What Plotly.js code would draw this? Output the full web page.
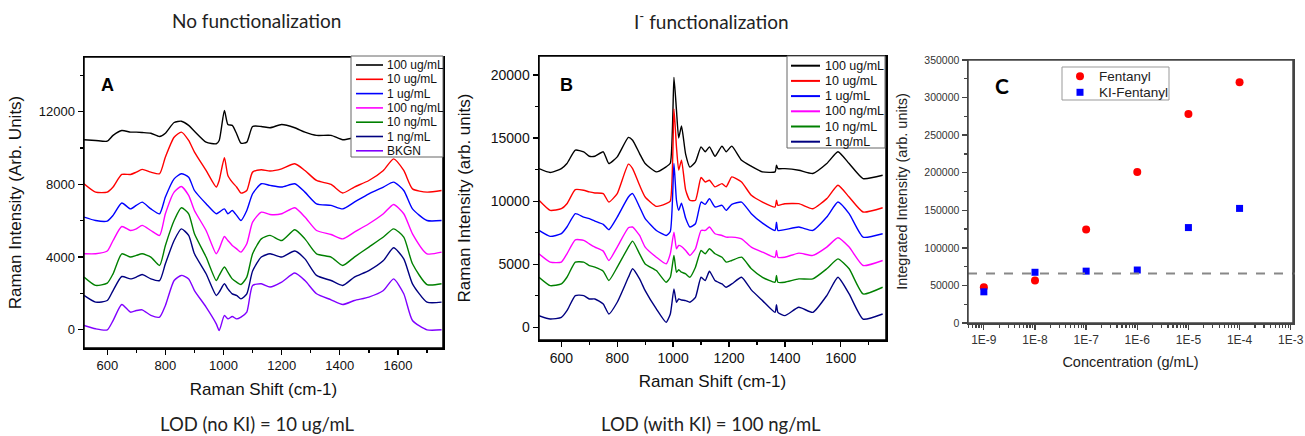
<!DOCTYPE html>
<html>
<head>
<meta charset="utf-8">
<script src="https://cdn.plot.ly/plotly-3.0.1.min.js"></script>
<style>html,body{margin:0;padding:0;background:#fff;}#chart{width:1305px;height:436px;}</style>
</head>
<body>
<div id="chart"></div>
<script>
// ---------- Panel A: no functionalization (Raman shift, cm-1) ----------
const ramanShiftA = [520,560,600,620,650,680,700,720,750,780,800,830,855,880,900,940,975,985,1003,1015,1030,1045,1060,1080,1100,1130,1160,1200,1245,1280,1320,1370,1410,1450,1500,1550,1585,1620,1650,1700,1750];
const noKI_100ugmL = [10450,10410,10370,10690,10960,10870,10870,10850,10810,10630,10810,11400,11470,11240,10920,10320,10230,10410,12060,11290,11240,10780,10260,10320,11180,11180,11110,11290,11110,10870,10690,10690,10450,10560,10630,10780,11050,10780,10500,10450,10450];
const noKI_10ugmL = [8030,7570,7570,7850,8540,8540,8670,8820,8670,8580,9500,10590,10870,10410,9770,8760,7850,8210,9460,8490,8120,7850,7520,7660,8670,8800,8730,8850,9130,8760,8210,7990,7520,7850,8210,8760,9400,8760,7750,7570,7660];
const noKI_1ugmL = [6200,6010,5980,6290,6970,6650,6840,7020,6650,6380,7300,8300,8580,8390,7660,6930,6380,6470,6650,6380,6560,6290,6010,6560,7480,8030,7940,7850,8030,7570,6930,6840,6650,7020,7480,7850,8120,7660,6650,6010,6010];
const noKI_100ngmL = [4180,4180,4330,4910,5680,5460,5550,5740,5460,5190,6380,7570,7880,7390,6560,5460,4180,4450,5130,4910,4640,4450,4270,4730,5920,6470,6340,6380,6710,6200,5460,5240,5000,5370,5830,6380,6890,6380,5280,4180,4270];
const noKI_10ngmL = [2900,2440,2570,3080,4180,4000,4090,4180,4000,3540,4640,6010,6710,6380,5280,4000,2710,2990,3450,3170,2800,2620,2490,2900,4180,5000,5190,4910,5500,5000,4180,4000,3540,4000,4550,5100,5550,5100,3630,2490,2530];
const noKI_1ngmL = [1890,1520,1610,2160,2930,2800,2900,3040,2800,2710,3630,4910,5550,5190,4180,3080,1890,2070,2530,2250,1980,1890,1700,1980,3230,4000,4180,4000,4330,3900,2990,2710,2440,2900,3260,3810,4510,3900,2530,1520,1520];
const noKI_BKGN = [240,55,0,510,1390,970,1060,1100,790,700,1340,2710,2990,2800,2160,1250,330,-40,790,600,730,600,700,970,2440,2530,2350,2620,3120,2710,1980,1650,1390,1610,1800,2160,2800,1980,510,0,0];
const seriesNamesA = ['100 ug/mL','10 ug/mL','1 ug/mL','100 ng/mL','10 ng/mL','1 ng/mL','BKGN'];

// ---------- Panel B: I- functionalization ----------
const ramanShiftB = [520,560,600,620,650,680,700,720,750,770,800,840,855,880,900,940,975,990,1003,1012,1020,1030,1045,1060,1080,1100,1115,1130,1150,1175,1190,1210,1245,1280,1320,1365,1370,1375,1400,1450,1500,1550,1590,1630,1680,1750];
const withKI_100ugmL = [12580,12270,12580,12980,14040,13910,13560,13560,13910,12980,13510,15050,14830,13770,12980,12320,12720,13000,19810,17220,15000,15950,13700,12700,13110,14300,13910,14300,13560,14360,13910,14360,13240,12770,12320,12320,12850,12580,12580,12450,12190,12980,13910,12980,11790,12050];
const withKI_10ugmL = [10070,9270,9400,9800,10910,10860,10730,10650,10600,9930,10600,12930,12580,11260,10330,9590,9800,10000,17300,14300,12460,13250,10870,10070,10070,11870,11520,11660,11130,11390,11130,11920,11520,10460,9930,9540,10070,9670,9800,9800,9400,10200,11260,10330,9140,9480];
const withKI_1ugmL = [7680,7210,7420,7950,9010,8740,8610,8420,8160,7740,8740,10330,10600,9540,8610,7680,7280,7600,12980,10070,9270,9830,8640,7950,8210,9930,9750,10200,9540,9670,9270,9750,9930,9010,8260,7680,8340,7680,7740,7950,7680,8740,9930,9010,7150,7420];
const withKI_100ngmL = [5830,5170,5170,5830,6940,6890,6620,6360,6040,5300,6360,7890,7950,7280,6360,5560,5030,5830,7550,6230,6490,6410,6090,5700,6230,7680,7680,7950,7420,7280,7150,7150,7020,6360,5960,5560,6090,5560,5560,5880,5700,6360,7100,6360,4900,5300];
const withKI_10ngmL = [3970,3310,3440,3970,5170,5170,4900,4770,4450,3710,4770,6360,6830,5830,5030,4500,3580,3970,5700,4370,4560,4370,4240,3970,4770,6090,5830,6230,5830,5560,5170,5300,5560,4640,3970,3580,4110,3580,3580,3840,3840,4640,5430,4640,2650,3180];
const withKI_1ngmL = [930,660,790,1320,2520,2520,2250,2250,1850,1060,1990,3970,4640,3840,2910,1460,400,1060,3050,1990,2250,2170,2120,1990,2380,3970,3710,4450,3710,3440,3180,3440,3970,2970,2120,1190,1800,1190,930,1590,1190,2520,3970,2650,660,1060];
const seriesNamesB = ['100 ug/mL','10 ug/mL','1 ug/mL','100 ng/mL','10 ng/mL','1 ng/mL'];

// ---------- Panel C: integrated intensity vs concentration ----------
const concentration = [1e-9,1e-8,1e-7,1e-6,1e-5,1e-4];
const fentanylIntensity = [47500,56500,124500,201000,278000,320500];
const kiFentanylIntensity = [41500,67500,69000,70500,127000,152500];
const lodThreshold = 66000;
const concTickVals = [1e-9,1e-8,1e-7,1e-6,1e-5,1e-4,1e-3];
const concTickText = ['1E-9','1E-8','1E-7','1E-6','1E-5','1E-4','1E-3'];
const seriesNamesC = ['Fentanyl','KI-Fentanyl'];

// ---------- axis ranges ----------
const rangeXA = [520,1755], rangeYA = [-1000,15000];
const rangeXB = [520,1762], rangeYB = [-1000,21500];
const rangeXC = [-9.31,-2.955], rangeYC = [0,350000];

// ---------- styles ----------
const W = 1305, H = 436;
const px = x => x / W, py = y => 1 - y / H;
const AXF = 'Liberation Sans, Arial, sans-serif';
const TXF = 'Lato, Open Sans, sans-serif';
const lineColors = ['#000000','#ff0000','#0000ff','#ff00ff','#008000','#000080','#8000ff'];

const traces = [];
const dataA = [noKI_100ugmL,noKI_10ugmL,noKI_1ugmL,noKI_100ngmL,noKI_10ngmL,noKI_1ngmL,noKI_BKGN];
dataA.forEach((ys,i)=>traces.push({type:'scatter',mode:'lines',x:ramanShiftA,y:ys,name:seriesNamesA[i],xaxis:'x',yaxis:'y',
  line:{color:lineColors[i],width:1.4,shape:'spline',smoothing:0.6},showlegend:false}));
const dataB = [withKI_100ugmL,withKI_10ugmL,withKI_1ugmL,withKI_100ngmL,withKI_10ngmL,withKI_1ngmL];
dataB.forEach((ys,i)=>traces.push({type:'scatter',mode:'lines',x:ramanShiftB,y:ys,name:seriesNamesB[i],xaxis:'x2',yaxis:'y2',
  line:{color:lineColors[i],width:1.4,shape:'spline',smoothing:0.5},showlegend:false}));
traces.push({type:'scatter',mode:'markers',x:concentration,y:fentanylIntensity,name:seriesNamesC[0],xaxis:'x3',yaxis:'y3',
  marker:{symbol:'circle',size:8,color:'#ff0000'},showlegend:false});
traces.push({type:'scatter',mode:'markers',x:concentration,y:kiFentanylIntensity,name:seriesNamesC[1],xaxis:'x3',yaxis:'y3',
  marker:{symbol:'square',size:7,color:'#0000ff'},showlegend:false});

const axBase = {showline:true,mirror:true,linecolor:'#000',linewidth:1.5,ticks:'outside',ticklen:5,tickwidth:1.3,tickcolor:'#000',
  showgrid:false,zeroline:false,automargin:false,tickfont:{family:AXF,size:13,color:'#111'}};

// minor log ticks for panel C
const minorLog = [];
for (let d=-10; d<=-3; d++) for (let k=2;k<=9;k++) minorLog.push(k*Math.pow(10,d));

const shapes = [];
const annotations = [];
// lod threshold line in C
shapes.push({type:'line',xref:'x3 domain',x0:0,x1:1.005,yref:'y3',y0:lodThreshold,y1:lodThreshold,line:{color:'#888',width:2,dash:'dash'}});
// plot frames as thin filled bars on each panel edge (paper coordinates)
[[84,443,57,348,'#000'],[539,886,56,340,'#000'],[968,1293,60,323,'#444']].forEach(([l,r,t,b,c])=>{
  const h = 0.75;
  [[l-h,r+h,t-h,t+h],[l-h,r+h,b-h,b+h],[l-h,l+h,t-h,b+h],[r-h,r+h,t-h,b+h]].forEach(([x0,x1,y0,y1])=>{
    shapes.push({type:'rect',xref:'paper',yref:'paper',x0:px(x0),x1:px(x1),y0:py(y1),y1:py(y0),fillcolor:c,line:{width:0},layer:'above'});
  });
});

// legend A
shapes.push({type:'rect',xref:'paper',yref:'paper',x0:px(351),x1:px(443),y0:py(157),y1:py(56),fillcolor:'#fff',line:{color:'#666',width:1}});
seriesNamesA.forEach((n,i)=>{
  const yc = 65 + i*14.3;
  shapes.push({type:'line',xref:'paper',yref:'paper',x0:px(356),x1:px(383),y0:py(yc),y1:py(yc),line:{color:lineColors[i],width:1.6}});
  annotations.push({xref:'paper',yref:'paper',x:px(385),y:py(yc),text:n,showarrow:false,xanchor:'left',yanchor:'middle',font:{family:AXF,size:12,color:'#111'}});
});
// legend B
shapes.push({type:'rect',xref:'paper',yref:'paper',x0:px(787),x1:px(885),y0:py(148),y1:py(56),fillcolor:'#fff',line:{color:'#666',width:1}});
seriesNamesB.forEach((n,i)=>{
  const yc = 65.7 + i*15.2;
  shapes.push({type:'line',xref:'paper',yref:'paper',x0:px(791),x1:px(820),y0:py(yc),y1:py(yc),line:{color:lineColors[i],width:2}});
  annotations.push({xref:'paper',yref:'paper',x:px(823),y:py(yc),text:n,showarrow:false,xanchor:'left',yanchor:'middle',font:{family:AXF,size:12.5,color:'#111'}});
});
// legend C
shapes.push({type:'rect',xref:'paper',yref:'paper',x0:px(1062),x1:px(1169),y0:py(100),y1:py(67),fillcolor:'#fff',line:{color:'#999',width:1}});
shapes.push({type:'circle',xref:'paper',yref:'paper',x0:px(1076),x1:px(1084),y0:py(80.3),y1:py(72.3),fillcolor:'#ff0000',line:{width:0}});
shapes.push({type:'rect',xref:'paper',yref:'paper',x0:px(1076.5),x1:px(1083.5),y0:py(95.8),y1:py(88.8),fillcolor:'#0000ff',line:{width:0}});
seriesNamesC.forEach((n,i)=>{
  annotations.push({xref:'paper',yref:'paper',x:px(1097),y:py(76.3+i*16),text:n,showarrow:false,xanchor:'left',yanchor:'middle',font:{family:AXF,size:13.5,color:'#222'}});
});

// panel letters
const CEN = {xref:'paper',yref:'paper',showarrow:false,xanchor:'center',yanchor:'middle'};
annotations.push(Object.assign({},CEN,{x:px(107),y:py(85),text:'<b>A</b>',font:{family:AXF,size:18,color:'#000'}}));
annotations.push(Object.assign({},CEN,{x:px(566),y:py(85),text:'<b>B</b>',font:{family:AXF,size:18,color:'#000'}}));
annotations.push(Object.assign({},CEN,{x:px(1002),y:py(85),text:'<b>C</b>',font:{family:TXF,size:21,color:'#000'}}));
// headings and footers
annotations.push(Object.assign({},CEN,{x:px(256),y:py(21),text:'No functionalization',font:{family:TXF,size:19,color:'#222'}}));
annotations.push(Object.assign({},CEN,{x:px(711),y:py(21),text:'I<sup>-</sup> functionalization',font:{family:TXF,size:19,color:'#222'}}));
annotations.push(Object.assign({},CEN,{x:px(257),y:py(424),text:'LOD (no KI) = 10 ug/mL',font:{family:TXF,size:18.5,color:'#222'}}));
annotations.push(Object.assign({},CEN,{x:px(711),y:py(424),text:'LOD (with KI) = 100 ng/mL',font:{family:TXF,size:18.5,color:'#222'}}));

const layout = {
  width:W,height:H,margin:{l:0,r:0,t:0,b:0,autoexpand:false},showlegend:false,
  xaxis:Object.assign({},axBase,{domain:[px(84),px(443)],anchor:'y',range:rangeXA,tick0:0,dtick:200,
    minor:{dtick:100,ticks:'outside',ticklen:3},
    title:{text:'Raman Shift (cm-1)',font:{family:AXF,size:17,color:'#111'},standoff:11}}),
  yaxis:Object.assign({},axBase,{domain:[py(348),py(57)],anchor:'x',range:rangeYA,tick0:0,dtick:4000,tickformat:'d',
    minor:{dtick:2000,ticks:'outside',ticklen:3},
    title:{text:'Raman Intensity (Arb. Units)',font:{family:AXF,size:17,color:'#111'},standoff:13}}),
  xaxis2:Object.assign({},axBase,{domain:[px(539),px(886)],anchor:'y2',range:rangeXB,tick0:0,dtick:200,
    tickfont:{family:AXF,size:14,color:'#111'},
    minor:{dtick:100,ticks:'outside',ticklen:3},
    title:{text:'Raman Shift (cm-1)',font:{family:AXF,size:17,color:'#111'},standoff:10}}),
  yaxis2:Object.assign({},axBase,{domain:[py(340),py(56)],anchor:'x2',range:rangeYB,tick0:0,dtick:5000,tickformat:'d',
    tickfont:{family:AXF,size:14,color:'#111'},
    minor:{dtick:2500,ticks:'outside',ticklen:3},
    title:{text:'Raman Intensity (arb. units)',font:{family:AXF,size:17,color:'#111'},standoff:16}}),
  xaxis3:Object.assign({},axBase,{type:'log',domain:[px(968),px(1293)],anchor:'y3',range:rangeXC,
    tickmode:'array',tickvals:concTickVals,ticktext:concTickText,linecolor:'#444',tickcolor:'#444',
    tickfont:{family:AXF,size:12,color:'#333'},
    minor:{tickmode:'array',tickvals:minorLog,ticks:'outside',ticklen:3},
    title:{text:'Concentration (g/mL)',font:{family:AXF,size:14.5,color:'#222'},standoff:11}}),
  yaxis3:Object.assign({},axBase,{domain:[py(323),py(60)],anchor:'x3',range:rangeYC,tick0:0,dtick:50000,tickformat:'d',
    linecolor:'#444',tickcolor:'#444',tickfont:{family:AXF,size:10.5,color:'#333'},
    minor:{dtick:25000,ticks:'outside',ticklen:3},
    title:{text:'Integrated Intensity (arb. units)',font:{family:AXF,size:14.5,color:'#222'},standoff:13}}),
  shapes:shapes,annotations:annotations
};
Plotly.newPlot('chart',traces,layout,{staticPlot:true,displayModeBar:false});
</script>
</body>
</html>
